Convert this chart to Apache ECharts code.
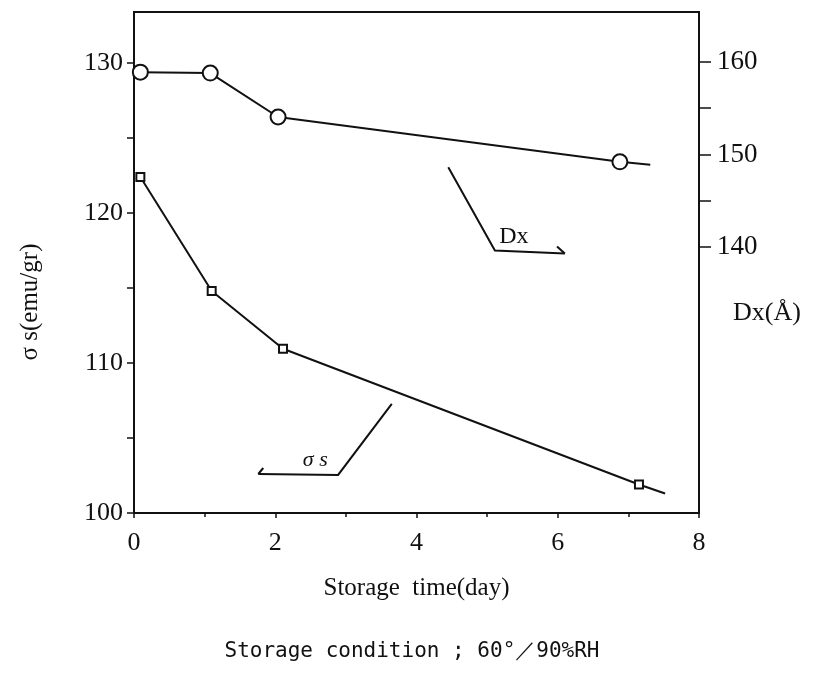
<!DOCTYPE html>
<html><head><meta charset="utf-8">
<script src="https://cdn.jsdelivr.net/npm/echarts@6/dist/echarts.min.js"></script>
<style>html,body{margin:0;padding:0;background:#fff}#c{width:823px;height:683px}</style>
</head><body><div id="c"></div>
<script>
// Dx (crystallite size, right axis) – open circles; last point is the line end (no marker)
const dxDays   = [0.09, 1.08, 2.04, 6.88, 7.31];
const dxValues = [158.9, 158.8, 154.05, 149.2, 148.9];
// sigma s (left axis) – small squares; last point is the line end (no marker)
const ssDays   = [0.09, 1.10, 2.11, 7.15, 7.52];
const ssValues = [122.4, 114.8, 110.95, 101.9, 101.3];
const markedCount = 4;

const xTickLabels = [0, 2, 4, 6, 8];
const leftTicks = [100, 105, 110, 115, 120, 125, 130];
const leftLabels = [100, 110, 120, 130];
const rightTicks = [140, 145, 150, 155, 160];
const rightLabels = [140, 150, 160];

const xTitle = 'Storage  time(day)';
const leftTitle = 'σ s(emu/gr)';
const rightTitle = 'Dx(Å)';
const caption = 'Storage condition ; 60°／90%RH';

// annotation leader lines, in data coordinates (x = day, y = left axis)
const dxLeader = [[4.45, 123.05], [5.11, 117.5], [6.10, 117.3], [5.99, 117.77]];
const ssLeader = [[3.65, 107.28], [2.89, 102.54], [1.76, 102.6], [1.83, 103.0]];
const dxLabelPos = [5.17, 118.4];
const ssLabelPos = [2.39, 103.5];

const serif = '"Liberation Serif", "DejaVu Serif", serif';
const ink = '#111';

function mk(days, vals){
  return days.map((d,i)=> i < markedCount ? {value:[d, vals[i]]} : {value:[d, vals[i]], symbol:'none'});
}

const chart = echarts.init(document.getElementById('c'), null, {renderer:'canvas'});
chart.setOption({
  animation:false,
  backgroundColor:'#fff',
  grid:{left:134, right:124, top:12, bottom:170, show:true, borderColor:ink, borderWidth:2, backgroundColor:'transparent'},
  xAxis:{
    type:'value', min:0, max:8, interval:2,
    axisLine:{lineStyle:{color:ink, width:2}},
    axisTick:{show:true, length:5, lineStyle:{color:ink, width:1.5}},
    minorTick:{show:true, splitNumber:2, length:4, lineStyle:{color:ink, width:1.5}},
    splitLine:{show:false},
    axisLabel:{color:ink, fontFamily:serif, fontSize:26, margin:17,
      customValues: xTickLabels},
    name:xTitle, nameLocation:'middle', nameGap:63,
    nameTextStyle:{color:ink, fontFamily:serif, fontSize:25}
  },
  yAxis:[{
    type:'value', min:100, max:133.4, position:'left',
    axisLine:{show:true, lineStyle:{color:ink, width:2}},
    axisTick:{show:true, length:7, customValues:leftTicks, lineStyle:{color:ink, width:1.5}},
    splitLine:{show:false},
    axisLabel:{color:ink, fontFamily:serif, fontSize:26, margin:11, customValues:leftLabels}
  },{
    type:'value', min:111.24, max:165.4, position:'right',
    axisLine:{show:true, lineStyle:{color:ink, width:2}},
    axisTick:{show:true, length:12, customValues:rightTicks, lineStyle:{color:ink, width:1.5}},
    splitLine:{show:false},
    axisLabel:{color:ink, fontFamily:serif, fontSize:27, margin:18, customValues:rightLabels}
  }],
  series:[{
    type:'line', yAxisIndex:1, data:mk(dxDays, dxValues),
    symbol:'circle', symbolSize:15, showAllSymbol:true,
    itemStyle:{color:'#fff', borderColor:ink, borderWidth:2},
    lineStyle:{color:ink, width:2}
  },{
    type:'line', yAxisIndex:0, data:mk(ssDays, ssValues),
    symbol:'rect', symbolSize:8, showAllSymbol:true,
    itemStyle:{color:'#fff', borderColor:ink, borderWidth:2},
    lineStyle:{color:ink, width:2}
  }]
});

function px(p){ return chart.convertToPixel({xAxisIndex:0, yAxisIndex:0}, p); }
function leader(pts){
  const a = pts.map(px);
  return [
    {type:'polyline', shape:{points:a.slice(0,3)}, style:{stroke:ink, lineWidth:2, fill:null}},
    {type:'line', shape:{x1:a[2][0], y1:a[2][1], x2:a[3][0], y2:a[3][1]}, style:{stroke:ink, lineWidth:2}}
  ];
}
const dxL = px(dxLabelPos), ssL = px(ssLabelPos);
chart.setOption({
  graphic:[
    ...leader(dxLeader), ...leader(ssLeader),
    {type:'text', x:dxL[0], y:dxL[1], style:{text:'Dx', font:'24px '+serif, fill:ink, textVerticalAlign:'middle'}},
    {type:'text', x:ssL[0], y:ssL[1], style:{text:'σ s', font:'italic 22px '+serif, fill:ink, textVerticalAlign:'middle'}},
    {type:'text', x:30, y:302, rotation:Math.PI/2, style:{text:leftTitle, font:'25px '+serif, fill:ink, textAlign:'center', textVerticalAlign:'middle'}},
    {type:'text', x:767, y:313, style:{text:rightTitle, font:'26px '+serif, fill:ink, textAlign:'center', textVerticalAlign:'middle'}},
    {type:'text', x:412, y:652, style:{text:caption, font:'21px "DejaVu Sans Mono", monospace', fill:ink, textAlign:'center', textVerticalAlign:'middle'}}
  ]
});
</script></body></html>
